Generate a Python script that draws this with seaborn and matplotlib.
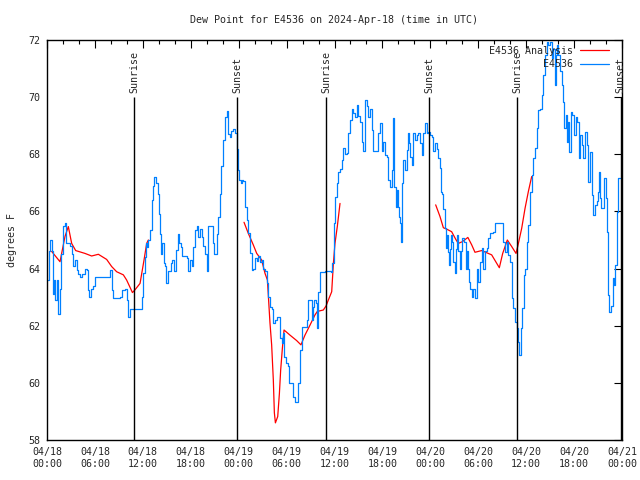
import numpy as np
import pandas as pd
import seaborn as sns
from matplotlib import pyplot as plt
from matplotlib.ticker import MultipleLocator

# station observations: hours since 2024-04-18 00:00 UTC, dew point (F)
obs_hours = [0.1, 0.25, 0.4, 0.6, 0.8, 0.9, 1.0, 1.2, 1.4, 1.6, 1.8, 2.0, 2.2, 2.35, 2.6, 2.9,
             3.1, 3.3, 3.5, 3.7, 3.9, 4.1, 4.35, 4.75, 5.0, 5.1, 5.25, 5.45, 5.8, 6.0, 7.7, 7.9,
             8.1, 8.3, 9.1, 9.35, 9.8, 10.0, 10.2, 10.4, 11.65, 11.85, 12.05, 12.25, 12.4, 12.55,
             12.7, 12.9, 13.1, 13.3, 13.45, 13.65, 13.85, 14.0, 14.15, 14.3, 14.45, 14.6, 14.8,
             14.9, 15.1, 15.3, 15.55, 15.7, 15.95, 16.2, 16.45, 16.55, 16.75, 16.9, 17.3, 17.5,
             17.7, 17.9, 18.1, 18.3, 18.55, 18.75, 18.95, 19.15, 19.35, 19.55, 19.8, 20.0, 20.2,
             20.6, 20.75, 20.95, 21.25, 21.45, 21.65, 21.85, 22.1, 22.3, 22.5, 22.7, 22.9, 23.1,
             23.35, 23.55,
             23.75, 23.88, 24.04, 24.29, 24.38, 24.58, 24.79, 25.0, 25.21, 25.42, 25.63, 25.83,
             26.05, 26.26, 26.46, 26.67, 26.88, 27.09, 27.3, 27.51, 27.71, 27.92, 28.13, 28.34,
             28.55, 28.76, 28.97, 29.18, 29.39, 29.59, 29.72, 29.89, 30.14, 30.35, 30.72, 30.85,
             31.06, 31.31, 31.47, 31.68, 31.89, 32.39, 32.52, 32.64, 32.93, 33.14, 33.35, 33.47,
             33.64, 33.77, 33.97, 34.18, 34.81, 35.56, 35.73, 35.94, 36.06, 36.27, 36.48, 36.69,
             36.9, 37.1, 37.32, 37.53, 37.73, 37.94, 38.15, 38.36, 38.57, 38.78, 38.98, 39.19,
             39.4, 39.61, 39.82, 40.03, 40.24, 40.45, 40.65, 40.86, 41.28, 41.49, 41.7, 41.91,
             42.11, 42.32, 42.53, 42.74, 42.95, 43.16, 43.36, 43.49, 43.66, 43.79, 43.91, 44.08,
             44.2, 44.33, 44.5, 44.62, 44.83, 45.04, 45.17, 45.33, 45.45, 45.66, 45.87, 46.08,
             46.29, 46.5, 46.71, 46.92, 47.12, 47.33, 47.54, 47.75, 47.96, 48.17, 48.37,
             48.58, 48.8, 49.0, 49.21, 49.34, 49.5, 49.63, 49.84, 49.92, 50.05, 50.17, 50.34,
             50.46, 50.59, 50.75, 50.88, 51.09, 51.21, 51.34, 51.5, 51.68, 51.84, 52.0, 52.25,
             52.43, 52.55, 52.68, 52.84, 53.0, 53.18, 53.38, 53.59, 53.81, 54.0, 54.22, 54.43,
             54.63, 54.85, 55.06, 55.26, 55.47, 55.89, 56.1, 56.94, 57.14, 57.35, 57.56, 57.77,
             57.98, 58.19, 58.39, 58.6, 58.82, 59.02, 59.14, 59.31, 59.52, 59.73, 59.86, 60.07,
             60.27, 60.48, 60.69, 60.9, 61.11, 61.32, 61.52, 61.73, 61.94, 62.15, 62.36, 62.57,
             62.77, 62.99, 63.2, 63.4, 63.61, 63.74, 63.9, 64.03, 64.24, 64.45, 64.65, 64.78,
             64.95, 65.07, 65.2, 65.37, 65.58, 65.78, 65.99, 66.2, 66.4, 66.62, 66.74, 66.95,
             67.16, 67.37, 67.58, 67.7, 67.78, 68.0, 68.2, 68.41, 68.62, 68.83, 68.95, 69.12,
             69.25, 69.37, 69.58, 69.79, 69.96, 70.08, 70.29, 70.41, 70.58, 70.84, 70.96, 71.12,
             71.34, 71.54, 71.75]
obs_dewp = [63.6, 64.6, 65.0, 64.6, 63.1, 63.6, 62.9, 63.6, 62.4, 63.3, 64.5, 65.5, 65.6, 64.9,
            64.9, 64.8, 64.5, 64.1, 64.3, 63.95, 63.8, 63.7, 63.8, 64.0, 63.95, 63.25, 63.0,
            63.3, 63.4, 63.7, 63.7, 63.95, 63.25, 62.96, 63.0, 63.25, 63.3, 62.9, 62.3, 62.6,
            62.6, 63.0, 63.85, 64.4, 64.9, 64.75, 65.0, 65.35, 66.4, 66.9, 67.2, 67.0, 66.6,
            65.9, 65.2, 64.5, 64.9, 64.2, 64.1, 63.5, 63.9, 63.9, 64.2, 64.3, 63.9, 64.65, 65.2,
            64.9, 64.75, 64.45, 64.45, 64.36, 63.9, 64.3, 64.1, 64.75, 65.35, 65.5, 65.1, 65.4,
            65.1, 64.8, 64.5, 63.9, 65.5, 65.5, 64.9, 64.5, 65.2, 65.8, 66.6, 67.6, 68.5, 69.3,
            69.5, 68.7, 68.6, 68.8, 68.9, 68.75,
            68.2, 67.45, 67.1, 67.0, 67.1, 67.05, 66.17, 65.7, 65.24, 64.53, 63.95, 64.0, 64.36,
            64.25, 64.45, 64.24, 64.3, 64.0, 63.9, 63.48, 63.0, 62.67, 62.6, 62.08, 62.2, 62.32,
            62.32, 61.56, 61.38, 61.73, 60.92, 60.68, 60.6, 59.98, 59.98, 59.52, 59.34, 59.34,
            60.0, 61.15, 61.97, 61.97, 62.2, 62.9, 62.9, 62.2, 62.67, 62.9, 62.8, 61.91, 63.19,
            63.89, 63.9, 63.89, 64.18, 65.58, 66.52, 67.0, 67.39, 67.5, 67.8, 68.21, 68.0, 68.05,
            68.73, 69.2, 69.6, 69.45, 69.3, 69.73, 69.35, 69.14, 68.44, 68.1, 69.9, 69.7, 69.3,
            69.6, 68.85, 68.1, 68.1, 68.73, 69.08, 68.1, 68.44, 67.97, 67.9, 67.1, 66.87, 67.45,
            69.26, 66.87, 66.17, 66.75, 66.17, 65.82, 65.58, 64.94, 66.98, 67.8, 67.45, 68.15,
            68.73, 68.38, 67.9, 67.62, 68.73, 68.5, 68.67, 68.73, 68.38, 67.97, 68.73, 69.08,
            68.73, 68.79, 68.67, 68.6, 68.1,
            68.4, 68.2, 67.86, 67.51, 66.69, 66.6, 66.1, 65.41, 64.71, 65.18, 64.59, 64.13, 64.7,
            65.18, 64.94, 64.24, 63.83, 64.7, 65.18, 64.6, 64.0, 64.6, 65.06, 64.94, 64.0, 64.6,
            64.0, 63.54, 63.3, 63.02, 63.3, 62.96, 64.0, 63.54, 64.24, 64.71, 64.0, 64.6, 64.71,
            65.06, 65.23, 65.29, 65.58, 65.58, 64.94, 64.59, 64.94, 64.48, 64.24, 62.96, 62.61,
            62.14, 61.91, 61.44, 60.98, 61.91, 62.61, 63.78, 64.0, 64.94, 65.53, 66.69, 67.28,
            67.86, 68.21, 68.91, 69.55, 69.6, 70.08, 70.78, 71.48, 71.94, 71.83, 71.94, 71.36,
            71.7, 70.43, 71.48, 71.83, 71.48, 70.9, 70.43, 69.84, 68.91, 69.38, 68.44, 69.14,
            68.09, 69.49, 69.38, 68.67, 69.32, 69.14, 67.86, 68.67, 68.32, 67.86, 68.79, 68.32,
            68.09, 67.04, 68.09, 66.58, 65.88, 66.23, 66.35, 66.69, 67.39, 66.46, 66.11, 66.11,
            67.16, 66.46, 65.29, 63.08, 62.49, 62.7, 63.66, 63.43, 64.13, 65.99, 67.16, 67.16]

# analysis, three separate pieces
ana_hours_1 = [0.58, 1.63, 2.25, 2.67, 3.09, 3.59, 4.76, 5.59, 6.43, 7.47, 8.1, 8.72, 9.56,
               9.97, 10.7, 11.0, 11.65, 12.15, 12.48, 12.69]
ana_dewp_1 = [64.6, 64.24, 65.12, 65.47, 64.88, 64.63, 64.53, 64.44, 64.5, 64.32, 64.07, 63.89,
              63.78, 63.6, 63.16, 63.25, 63.48, 64.3, 64.88, 65.0]
ana_hours_2 = [24.67, 25.21, 25.83, 26.26, 26.88, 27.3, 27.6, 27.92, 28.13, 28.34, 28.47, 28.6,
               28.89, 29.1, 29.26, 29.47, 29.68, 30.43, 31.26, 31.8, 32.3, 32.93, 33.56, 33.85,
               34.6, 34.94, 35.23, 35.65, 35.86, 36.06, 36.35, 36.69]
ana_dewp_2 = [65.62, 65.23, 64.83, 64.53, 64.3, 63.83, 63.6, 62.1, 61.33, 60.1, 58.95, 58.6,
              58.82, 59.63, 60.45, 61.2, 61.85, 61.67, 61.48, 61.33, 61.67, 62.02, 62.38, 62.5,
              62.55, 62.69, 62.9, 63.19, 64.18, 64.88, 65.47, 66.28]
ana_hours_3 = [48.67, 49.21, 49.63, 50.05, 50.67, 51.17, 51.5, 52.0, 52.7, 53.18, 53.59, 54.43,
               55.26, 55.68, 56.64, 57.06, 57.64, 58.19, 58.73, 58.94, 59.44, 59.86, 60.27, 60.69]
ana_dewp_3 = [66.23, 65.82, 65.43, 65.38, 65.29, 65.03, 64.88, 64.94, 65.09, 64.83, 64.57, 64.63,
              64.53, 64.48, 64.03, 64.53, 65.0, 64.77, 64.53, 64.77, 65.41, 66.11, 66.69, 67.22]

sun_hours = [10.93, 23.83, 34.95, 47.85, 58.9, 71.85]
sun_labels = ['Sunrise', 'Sunset', 'Sunrise', 'Sunset', 'Sunrise', 'Sunset']

tick_hours = list(range(0, 73, 6))
tick_labels = ['04/18\n00:00', '04/18\n06:00', '04/18\n12:00', '04/18\n18:00',
               '04/19\n00:00', '04/19\n06:00', '04/19\n12:00', '04/19\n18:00',
               '04/20\n00:00', '04/20\n06:00', '04/20\n12:00', '04/20\n18:00',
               '04/21\n00:00']

obs = pd.DataFrame({'hour': obs_hours, 'dewp': obs_dewp})
ana = pd.concat([
    pd.DataFrame({'hour': ana_hours_1, 'dewp': ana_dewp_1, 'seg': 1}),
    pd.DataFrame({'hour': ana_hours_2, 'dewp': ana_dewp_2, 'seg': 2}),
    pd.DataFrame({'hour': ana_hours_3, 'dewp': ana_dewp_3, 'seg': 3}),
])

sns.set_style('white')
plt.rcParams['font.family'] = ['DejaVu Sans Mono']
fs = 7.2

fig = plt.figure(figsize=(6.4, 4.8), dpi=100)
ax = fig.add_axes([47 / 640, 40 / 480, 575 / 640, 400 / 480])

sns.lineplot(data=ana, x='hour', y='dewp', units='seg', estimator=None, sort=False,
             color='#ff0000', lw=0.9, ax=ax, label='E4536 Analysis')
sns.lineplot(data=obs, x='hour', y='dewp', estimator=None, sort=False, color='#0080ff',
             lw=0.9, drawstyle='steps-post', ax=ax, label='E4536')

for t, lab in zip(sun_hours, sun_labels):
    ax.vlines(t, 58, 70.0, color='black', lw=1.0)
    ax.text(t, 70.15, lab, rotation=90, ha='center', va='bottom', fontsize=fs)

ax.set_xlim(0, 72)
ax.set_ylim(58, 72)
ax.set_xticks(tick_hours)
ax.set_xticklabels(tick_labels, fontsize=fs, linespacing=1.25)
ax.set_yticks(range(58, 73, 2))
ax.tick_params(axis='y', labelsize=fs)
ax.xaxis.set_minor_locator(MultipleLocator(2))
ax.tick_params(which='both', direction='in', top=True, right=True, width=0.8, color='black')
ax.tick_params(which='major', length=6)
ax.tick_params(which='minor', length=3)
ax.tick_params(axis='x', pad=5)
ax.tick_params(axis='y', pad=5)
for s in ax.spines.values():
    s.set_color('black')
    s.set_linewidth(1.0)

ax.set_xlabel('')
ax.set_ylabel('degrees F', fontsize=fs, labelpad=8)
# title is centred over the plot area
ax.text(0.5, 1 + 20 / 400, 'Dew Point for E4536 on 2024-Apr-18 (time in UTC)',
        transform=ax.transAxes, ha='center', va='center', fontsize=fs)

# one legend entry per series
handles, labels = ax.get_legend_handles_labels()
seen = {}
for h, l in zip(handles, labels):
    if l not in seen:
        seen[l] = h
ax.legend(list(seen.values()), list(seen.keys()), loc='upper right',
          bbox_to_anchor=(0.978, 0.985), frameon=False, fontsize=fs,
          markerfirst=False, handlelength=2.9, handletextpad=0.7, labelspacing=0.35,
          borderaxespad=0, borderpad=0)

fig.savefig('out.png', dpi=100)
